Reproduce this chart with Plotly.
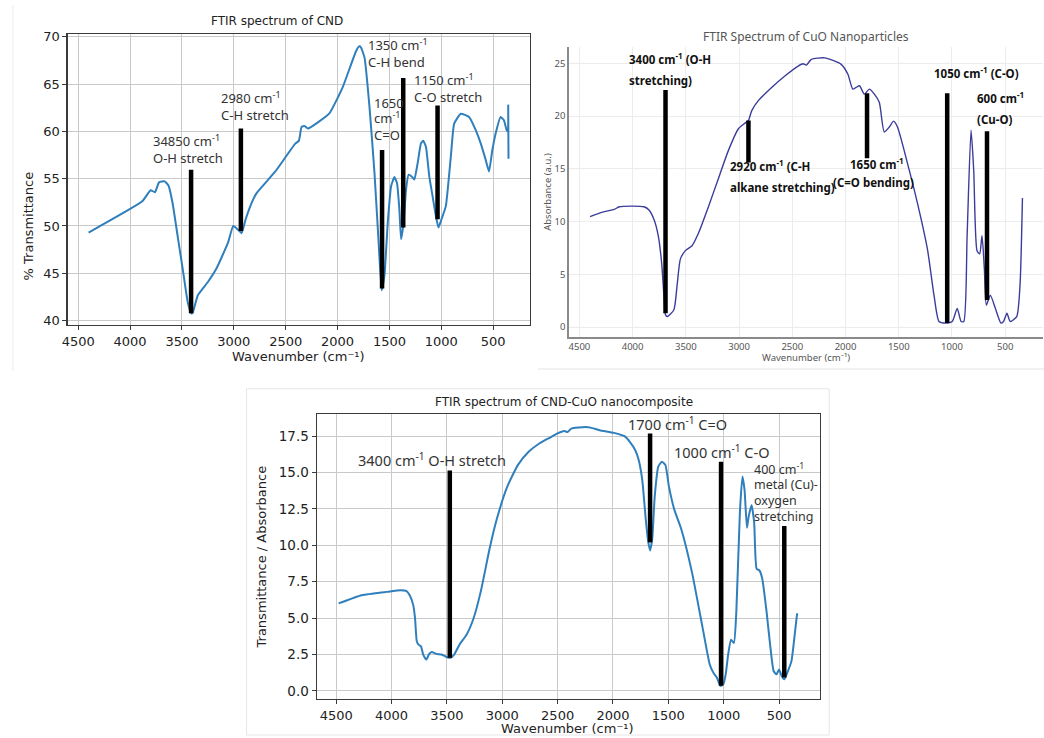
import plotly.graph_objects as go

W, H = 1044, 738

# ---------------- DATA ----------------
tick_wn = [4500, 4000, 3500, 3000, 2500, 2000, 1500, 1000, 500]

# Panel 1: FTIR spectrum of CND  (wavenumber, % transmittance)
cnd_points = [
    (4400, 49.3), (3883, 52.6), (3802, 53.78), (3760, 53.57), (3721, 54.61), (3666, 54.72),
    (3630, 54.27), (3591, 52.45), (3542, 48.96), (3493, 45.47), (3445, 41.98), (3412, 40.76),
    (3396, 40.85), (3347, 42.68), (3250, 44.08), (3169, 45.47), (3055, 48.26), (3006, 50.01),
    (2964, 49.66), (2925, 49.24), (2886, 50.71), (2828, 52.45), (2779, 53.5), (2600, 55.76),
    (2406, 58.73), (2373, 59.0), (2347, 60.48), (2318, 60.58), (2286, 60.3), (2081, 61.87),
    (1951, 64.66), (1821, 68.5), (1789, 69.02), (1773, 68.85), (1740, 67.8), (1692, 62.57),
    (1644, 55.6), (1606, 48.61), (1575, 43.2), (1548, 44.77), (1516, 50.36), (1484, 54.2),
    (1452, 55.17), (1427, 54.55), (1404, 51.75), (1388, 48.61), (1363, 50.36), (1340, 53.85),
    (1315, 55.42), (1286, 55.24), (1260, 54.9), (1228, 56.64), (1196, 58.73), (1174, 59.0),
    (1148, 58.38), (1116, 55.24), (1084, 53.15), (1052, 51.06), (1027, 49.83), (998, 50.71),
    (956, 52.1), (908, 57.33), (876, 60.82), (812, 61.87), (732, 61.52), (668, 60.13),
    (620, 58.73), (572, 56.99), (540, 55.76), (508, 58.03), (476, 59.78), (428, 61.52),
    (396, 61.17), (370, 60.13), (358, 60.0), (355, 62.74), (352, 57.1),
]
cnd_bar_x = [3412, 2932, 1571, 1367, 1036]
cnd_bar_top = [55.94, 60.3, 58.03, 65.64, 62.74]
cnd_bar_bottom = [40.76, 49.48, 43.38, 49.83, 50.71]
cnd_labels = ["34850 cm<sup>-1</sup>", "O-H stretch", "2980 cm<sup>-1</sup>", "C-H stretch",
              "1650", "cm<sup>-1</sup>", "C=O", "1350 cm<sup>-1</sup>", "C-H bend",
              "1150 cm<sup>-1</sup>", "C-O stretch"]
cnd_label_x = [3802, 3802, 3146, 3146, 1669, 1669, 1669, 1724, 1724, 1285, 1285]
cnd_label_y = [59.0, 57.15, 63.6, 61.75, 63.0, 61.45, 59.6, 69.15, 67.3, 65.45, 63.6]

# Panel 2: FTIR Spectrum of CuO Nanoparticles (wavenumber, absorbance)
cuo_points = [
    (4400, 10.47), (4282, 10.9), (4173, 11.16), (4126, 11.41), (4002, 11.47), (3893, 11.41),
    (3846, 11.1), (3800, 10.22), (3759, 8.66), (3728, 6.16), (3706, 3.03), (3691, 1.16),
    (3675, 1.0), (3613, 1.63), (3582, 3.97), (3551, 6.47), (3504, 7.25), (3442, 7.72),
    (3379, 8.97), (3286, 11.47), (3193, 14.12), (3099, 16.78), (3006, 18.81), (2944, 19.34),
    (2912, 19.6), (2881, 20.53), (2819, 21.47), (2694, 22.72), (2570, 23.81), (2445, 24.75),
    (2399, 24.97), (2368, 24.84), (2321, 25.38), (2196, 25.53), (2118, 25.28), (2041, 24.91),
    (1978, 23.97), (1932, 22.56), (1901, 22.72), (1869, 22.88), (1823, 22.09), (1776, 22.56),
    (1729, 22.09), (1683, 21.31), (1636, 18.5), (1589, 18.97), (1549, 19.53), (1512, 18.97),
    (1418, 15.53), (1325, 11.78), (1231, 7.41), (1169, 3.03), (1122, 0.53), (1060, 0.38),
    (998, 0.53), (951, 1.78), (914, 0.53), (889, 0.53), (858, 8.66), (821, 18.66),
    (796, 14.9), (765, 7.25), (740, 6.94), (718, 8.66), (696, 5.53), (677, 2.09),
    (640, 3.03), (593, 1.78), (540, 0.38), (516, 0.53), (484, 1.31), (453, 0.53),
    (392, 1.0), (361, 3.97), (338, 12.25),
]
cuo_bar_x = [3691, 2912, 1798, 1045, 671]
cuo_bar_top = [22.47, 19.6, 22.16, 22.16, 18.56]
cuo_bar_bottom = [1.31, 15.6, 16.0, 0.38, 2.56]
cuo_labels = ["3400 cm<sup>-1</sup> (O-H", "stretching)", "2920 cm<sup>-1</sup> (C-H",
              "alkane stretching)", "1650 cm<sup>-1</sup>", "(C=O bending)",
              "1050 cm<sup>-1</sup> (C-O)", "600 cm<sup>-1</sup>", "(Cu-O)"]
cuo_label_x = [4055, 4055, 3105, 3105, 1978, 2134, 1191, 780, 780]
cuo_label_y = [25.5, 23.4, 15.35, 13.25, 15.5, 13.7, 24.15, 21.75, 19.65]

# Panel 3: FTIR spectrum of CND-CuO nanocomposite
comp_points = [
    (4478, 6.01), (4269, 6.57), (4045, 6.8), (3916, 6.91), (3868, 6.87), (3836, 6.57),
    (3804, 5.89), (3788, 4.99), (3772, 3.4), (3756, 3.17), (3734, 3.06), (3714, 2.49),
    (3685, 2.15), (3660, 2.54), (3637, 2.67), (3596, 2.54), (3548, 2.49), (3499, 2.31),
    (3467, 2.27), (3435, 2.49), (3387, 3.17), (3323, 3.85), (3259, 4.99), (3195, 6.8),
    (3115, 9.75), (3050, 11.79), (2954, 14.05), (2858, 15.53), (2762, 16.43), (2666, 17.0),
    (2569, 17.41), (2505, 17.68), (2441, 17.86), (2409, 17.79), (2377, 18.02), (2249, 18.13),
    (2201, 18.09), (2120, 17.91), (1992, 17.73), (1896, 17.5), (1848, 17.11), (1800, 16.55),
    (1768, 15.87), (1736, 14.51), (1704, 11.79), (1681, 10.2), (1665, 9.65), (1646, 10.43),
    (1623, 13.37), (1591, 15.41), (1559, 15.75), (1527, 15.53), (1495, 14.05), (1447, 12.47),
    (1383, 11.11), (1287, 8.16), (1190, 4.31), (1126, 1.81), (1094, 1.25), (1062, 0.91),
    (1030, 0.34), (1004, 0.45), (982, 1.13), (960, 2.49), (934, 3.51), (908, 3.29),
    (886, 5.44), (854, 12.24), (831, 14.73), (812, 13.83), (790, 11.2), (774, 12.01),
    (748, 12.75), (725, 11.56), (703, 8.39), (677, 8.27), (652, 7.71), (613, 5.44),
    (581, 3.17), (549, 1.36), (523, 1.13), (500, 1.47), (477, 1.02), (452, 0.79),
    (420, 1.36), (388, 2.04), (362, 3.63), (337, 5.33),
]
comp_bar_x = [3474, 1665, 1024, 453]
comp_bar_top = [15.14, 17.68, 15.75, 11.33]
comp_bar_bottom = [2.27, 10.2, 0.34, 0.91]
comp_labels = ["3400 cm<sup>-1</sup> O-H stretch", "1700 cm<sup>-1</sup> C=O",
               "1000 cm<sup>-1</sup> C-O", "400 cm<sup>-1</sup>", "metal (Cu)-",
               "oxygen", "stretching"]
comp_label_x = [4317, 1880, 1463, 748, 748, 748, 748]
comp_label_y = [15.9, 18.4, 16.42, 15.25, 14.15, 13.05, 11.95]
comp_label_size = [14.5, 14.5, 14.5, 12.5, 12.5, 12.5, 12.5]

# ---------------- FIGURE ----------------
def px(x):
    return x / W

def py(y):
    return 1 - y / H

def bar_xy(xs, tops, bottoms):
    bx, by = [], []
    for x, t, b in zip(xs, tops, bottoms):
        bx += [x, x, None]
        by += [b, t, None]
    return bx, by

fig = go.Figure()
MPL_BLUE = "#2f7fbd"
CUO_BLUE = "#3c3c9c"

# Panel 1
wn, val = zip(*cnd_points)
fig.add_trace(go.Scatter(x=wn, y=val, mode="lines",
                         line=dict(color=MPL_BLUE, width=2, shape="spline", smoothing=0.4),
                         xaxis="x", yaxis="y", showlegend=False, hoverinfo="skip"))
bx, by = bar_xy(cnd_bar_x, cnd_bar_top, cnd_bar_bottom)
fig.add_trace(go.Scatter(x=bx, y=by, mode="lines", line=dict(color="black", width=4.5),
                         xaxis="x", yaxis="y", showlegend=False, hoverinfo="skip"))
# Panel 2
wn, val = zip(*cuo_points)
fig.add_trace(go.Scatter(x=wn, y=val, mode="lines",
                         line=dict(color=CUO_BLUE, width=1.4, shape="spline", smoothing=0.6),
                         xaxis="x2", yaxis="y2", showlegend=False, hoverinfo="skip"))
bx, by = bar_xy(cuo_bar_x, cuo_bar_top, cuo_bar_bottom)
fig.add_trace(go.Scatter(x=bx, y=by, mode="lines", line=dict(color="black", width=4.5),
                         xaxis="x2", yaxis="y2", showlegend=False, hoverinfo="skip"))
# Panel 3
wn, val = zip(*comp_points)
fig.add_trace(go.Scatter(x=wn, y=val, mode="lines",
                         line=dict(color=MPL_BLUE, width=2, shape="spline", smoothing=0.5),
                         xaxis="x3", yaxis="y3", showlegend=False, hoverinfo="skip"))
bx, by = bar_xy(comp_bar_x, comp_bar_top, comp_bar_bottom)
fig.add_trace(go.Scatter(x=bx, y=by, mode="lines", line=dict(color="black", width=4.5),
                         xaxis="x3", yaxis="y3", showlegend=False, hoverinfo="skip"))

MPL_FONT = "DejaVu Sans"
mpl_axis = dict(showline=True, linecolor="#3a3a3a", linewidth=1.2, mirror=True,
                ticks="outside", ticklen=4, tickcolor="#3a3a3a",
                showgrid=True, gridcolor="#c9c9c9", gridwidth=1, zeroline=False)


def paper_text(x, y, text, size, color, family, angle=0):
    return dict(x=px(x), y=py(y), xref="paper", yref="paper", text=text, showarrow=False,
                xanchor="center", yanchor="middle", textangle=angle,
                font=dict(family=family, size=size, color=color))


annotations = [
    paper_text(273, 16, "FTIR spectrum of CND", 12, "#222", MPL_FONT),
    paper_text(294, 355, "Wavenumber (cm⁻¹)", 13, "#222", MPL_FONT),
    paper_text(23, 223, "% Transmittance", 13, "#222", MPL_FONT, -90),
    paper_text(805, 31.5, "FTIR Spectrum of CuO Nanoparticles", 12, "#555", "Noto Sans"),
    paper_text(805, 356, "Wavenumber (cm⁻¹)", 9.5, "#555", "Noto Sans"),
    paper_text(545, 189, "Absorbance (a.u.)", 9.5, "#555", "Noto Sans", -90),
    paper_text(561, 401.5, "FTIR spectrum of CND-CuO nanocomposite", 12, "#222", MPL_FONT),
    paper_text(565, 731, "Wavenumber (cm⁻¹)", 13, "#222", MPL_FONT),
    paper_text(257, 558, "Transmittance / Absorbance", 13, "#222", MPL_FONT, -90),
]
for t, x, y in zip(cnd_labels, cnd_label_x, cnd_label_y):
    annotations.append(dict(x=x, y=y, xref="x", yref="y", text=t, showarrow=False, xanchor="left",
                            yanchor="middle", font=dict(family="Noto Sans", size=13, color="#333")))
for t, x, y in zip(cuo_labels, cuo_label_x, cuo_label_y):
    annotations.append(dict(x=x, y=y, xref="x2", yref="y2", text="<b>" + t + "</b>", showarrow=False,
                            xanchor="left", yanchor="middle",
                            font=dict(family="Comic Sans MS, Noto Sans", size=11.5, color="#111")))
for t, x, y, s in zip(comp_labels, comp_label_x, comp_label_y, comp_label_size):
    annotations.append(dict(x=x, y=y, xref="x3", yref="y3", text=t, showarrow=False, xanchor="left",
                            yanchor="middle", font=dict(family="Noto Sans", size=s, color="#333")))

shapes = [
    dict(type="rect", xref="paper", yref="paper", x0=px(242), x1=px(828), y0=py(738), y1=py(388),
         line=dict(color="#e6e6e6", width=1)),
    dict(type="line", xref="paper", yref="paper", x0=px(535), x1=px(1044), y0=py(368), y1=py(368),
         line=dict(color="#e3e3e3", width=1)),
    dict(type="line", xref="paper", yref="paper", x0=px(7), x1=px(7), y0=py(0), y1=py(370),
         line=dict(color="#ececec", width=1)),
]

fig.update_layout(
    width=W, height=H, margin=dict(l=0, r=0, t=0, b=0),
    paper_bgcolor="white", plot_bgcolor="white", showlegend=False, hovermode=False,
    annotations=annotations, shapes=shapes,
    xaxis=dict(domain=[px(62), px(526.7)], range=[4602, 148], tickvals=tick_wn, anchor="y",
               tickfont=dict(family=MPL_FONT, size=13, color="#222"), **mpl_axis),
    yaxis=dict(domain=[py(323.3), py(29.3)], range=[39.55, 70.3], tickvals=[40, 45, 50, 55, 60, 65, 70],
               anchor="x", tickfont=dict(family=MPL_FONT, size=13, color="#222"), **mpl_axis),
    xaxis2=dict(domain=[px(566), px(1043)], range=[4600, 145], tickvals=tick_wn, anchor="y2",
                showline=True, linecolor="#8a8a8a", linewidth=1.5, mirror=False,
                ticks="", showgrid=True, gridcolor="#ececec", zeroline=False,
                tickfont=dict(family="Noto Sans", size=9.5, color="#555")),
    yaxis2=dict(domain=[py(336), py(42)], range=[-0.97, 26.6], tickvals=[0, 5, 10, 15, 20, 25],
                anchor="x2", showline=True, linecolor="#8a8a8a", linewidth=1.5, mirror=False,
                ticks="", showgrid=True, gridcolor="#ececec", zeroline=False,
                tickfont=dict(family="Noto Sans", size=9.5, color="#555")),
    xaxis3=dict(domain=[px(312.5), px(818.3)], range=[4676, 134], tickvals=tick_wn, anchor="y3",
                tickfont=dict(family=MPL_FONT, size=13, color="#222"), **mpl_axis),
    yaxis3=dict(domain=[py(701.7), py(413.3)], range=[-0.57, 19.04],
                tickvals=[0, 2.5, 5, 7.5, 10, 12.5, 15, 17.5],
                ticktext=["0.0", "2.5", "5.0", "7.5", "10.0", "12.5", "15.0", "17.5"],
                anchor="x3", tickfont=dict(family=MPL_FONT, size=13.5, color="#222"), **mpl_axis),
)

fig.write_html("out.html", config={"displayModeBar": False, "staticPlot": True},
               post_script="document.body.style.margin='0';document.body.style.overflow='hidden';")
